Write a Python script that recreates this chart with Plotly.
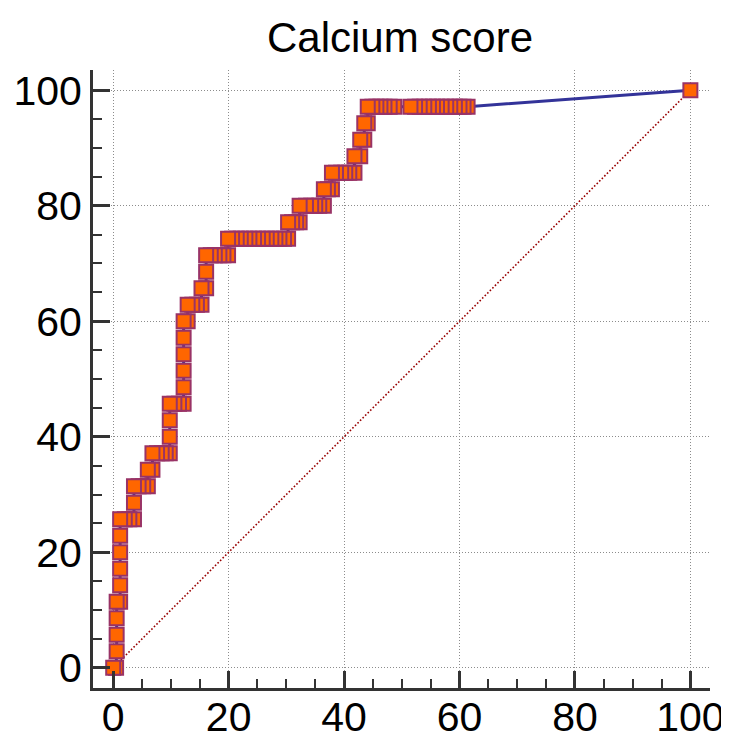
import plotly.graph_objects as go

# ROC curve points (100 - Specificity, Sensitivity)
fpr = [0, 0.5,
       0.6, 0.6, 0.6,
       0.6, 1.2,
       1.2, 1.2, 1.2, 1.2,
       1.2, 2.0, 2.8, 3.6,
       3.6,
       3.6, 4.4, 5.2, 6.0,
       6.0, 6.8,
       6.8, 7.6, 8.4, 9.1, 9.8,
       9.8, 9.8,
       9.8, 10.6, 11.4, 12.2,
       12.2, 12.2, 12.2, 12.2,
       12.2, 12.9,
       12.9, 13.7, 14.5, 15.3,
       15.3, 16.1,
       16.1,
       16.1, 16.9, 17.6, 18.4, 19.1, 19.9,
       19.9, 20.6, 21.4, 22.1, 22.9, 23.6, 24.4, 25.1, 25.9, 26.6, 27.4, 28.1, 28.8, 29.6, 30.3,
       30.3, 31.0, 31.7, 32.3,
       32.3, 33.4, 34.3, 35.0, 35.7, 36.5,
       36.5, 37.2, 37.9,
       37.9, 38.6, 39.5, 40.2, 40.9, 41.8,
       41.8, 42.8,
       42.8, 43.5,
       43.5, 44.1,
       44.1, 44.9, 45.6, 46.3, 47.0, 47.9, 48.7, 51.5, 52.3, 53.1, 53.9, 54.7, 55.4,
       56.1, 56.9, 57.7, 58.4, 59.2, 60.0, 60.7, 61.4,
       100]
tpr = [0, 0,
       2.86, 5.71, 8.57,
       11.43, 11.43,
       14.29, 17.14, 20.0, 22.86,
       25.71, 25.71, 25.71, 25.71,
       28.57,
       31.43, 31.43, 31.43, 31.43,
       34.29, 34.29,
       37.14, 37.14, 37.14, 37.14, 37.14,
       40.0, 42.86,
       45.71, 45.71, 45.71, 45.71,
       48.57, 51.43, 54.29, 57.14,
       60.0, 60.0,
       62.86, 62.86, 62.86, 62.86,
       65.71, 65.71,
       68.57,
       71.43, 71.43, 71.43, 71.43, 71.43, 71.43,
       74.29, 74.29, 74.29, 74.29, 74.29, 74.29, 74.29, 74.29, 74.29, 74.29, 74.29, 74.29, 74.29, 74.29, 74.29,
       77.14, 77.14, 77.14, 77.14,
       80.0, 80.0, 80.0, 80.0, 80.0, 80.0,
       82.86, 82.86, 82.86,
       85.71, 85.71, 85.71, 85.71, 85.71, 85.71,
       88.57, 88.57,
       91.43, 91.43,
       94.29, 94.29,
       97.14, 97.14, 97.14, 97.14, 97.14, 97.14, 97.14, 97.14, 97.14, 97.14, 97.14, 97.14, 97.14,
       97.14, 97.14, 97.14, 97.14, 97.14, 97.14, 97.14, 97.14,
       100]

diag = [0, 100]
tick_vals = [0, 20, 40, 60, 80, 100]
title_text = "Calcium score"

FONT = "Liberation Sans, Arial, sans-serif"

fig = go.Figure()
fig.add_trace(go.Scatter(x=diag, y=diag, mode="lines",
                         line=dict(color="#990000", width=1.6, dash="1.6px,2px"),
                         hoverinfo="skip", showlegend=False))
fig.add_trace(go.Scatter(x=fpr, y=tpr, mode="lines",
                         line=dict(color="#333399", width=3),
                         hoverinfo="skip", showlegend=False))
fig.add_trace(go.Scatter(x=fpr[::-1], y=tpr[::-1], mode="markers",
                         marker=dict(symbol="square", size=14, color="#FF6600",
                                     line=dict(color="#993366", width=2)),
                         hoverinfo="skip", showlegend=False))

axis_common = dict(
    tickvals=tick_vals,
    showgrid=True, gridcolor="#8c8c8c", gridwidth=1, griddash="1px,2px",
    zeroline=False,
    showline=True, linecolor="#333333", linewidth=3, mirror=False,
    ticks="inside", ticklen=17, tickwidth=3, tickcolor="#333333",
    minor=dict(ticks="inside", ticklen=9, tickwidth=2, tickcolor="#333333",
               dtick=5, tick0=0, showgrid=False),
    tickfont=dict(family=FONT, size=41, color="#000000"),
    automargin=False,
)

fig.update_layout(
    width=721, height=734,
    paper_bgcolor="white", plot_bgcolor="white",
    margin=dict(l=85, r=19, t=62, b=54),
    title=dict(text=title_text, x=392 / 721, xanchor="center", xref="container",
               y=1 - 29 / 734, yanchor="middle", yref="container",
               font=dict(family=FONT, size=42, color="#000000")),
    xaxis=dict(range=[-3.5, 103.4], ticklabelstandoff=-9, **axis_common),
    yaxis=dict(range=[-3.5, 103.5], **axis_common),
)

fig.write_html("out.html")
